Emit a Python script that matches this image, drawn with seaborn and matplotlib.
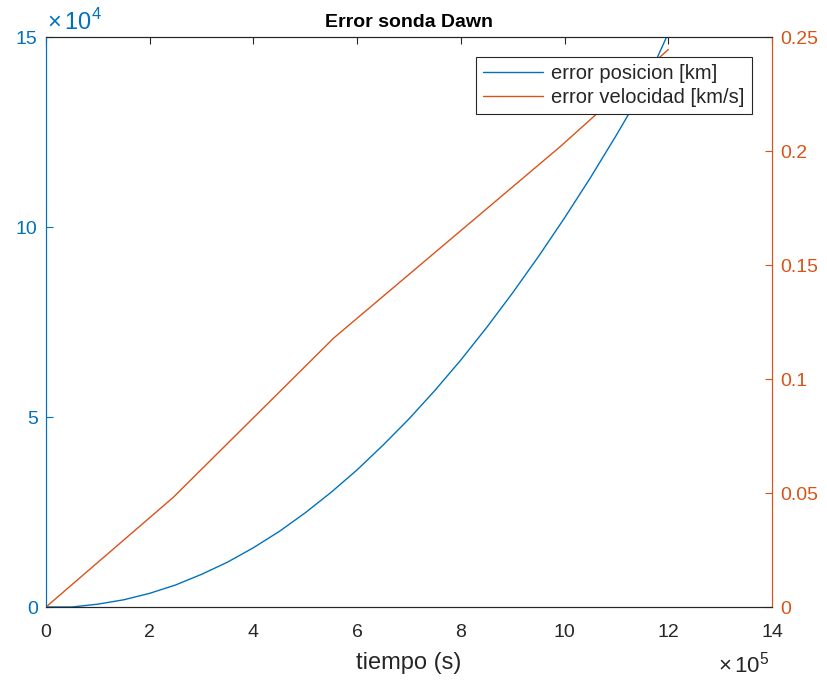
import numpy as np
import pandas as pd
import matplotlib
matplotlib.use('Agg')
import matplotlib.pyplot as plt
from matplotlib.ticker import FuncFormatter, MultipleLocator
import seaborn as sns

# datos
t_pos = [0.0, 0.5, 1.0, 1.5, 2.0, 2.5, 3.0, 3.5, 4.0, 4.5, 5.0, 5.5, 6.0, 6.5,
         7.0, 7.5, 8.0, 8.5, 9.0, 9.5, 10.0, 10.5, 11.0, 11.5, 12.0]  # x1e5 s
err_pos = [0.0, 0.0, 0.075, 0.19, 0.36, 0.58, 0.86, 1.18, 1.56, 1.99, 2.48, 3.02, 3.61, 4.26,
           4.95, 5.70, 6.50, 7.36, 8.27, 9.23, 10.24, 11.30, 12.42, 13.59, 15.1]  # x1e4 km
t_vel = [0.0, 2.45, 5.55, 9.91, 10.64, 12.0]  # x1e5 s
err_vel = [0.0, 0.048, 0.118, 0.2018, 0.2167, 0.2445]  # km/s

BLUE = '#0072BD'
ORANGE = '#D95319'
GRAY = '#262626'

sns.set_theme(style='white')
plt.rcParams['font.family'] = ['Liberation Sans', 'DejaVu Sans']
plt.rcParams['mathtext.fontset'] = 'custom'
plt.rcParams['mathtext.rm'] = 'Liberation Sans'

df_pos = pd.DataFrame({'t': np.array(t_pos) * 1e5, 'e': np.array(err_pos) * 1e4})
df_vel = pd.DataFrame({'t': np.array(t_vel) * 1e5, 'e': np.array(err_vel)})

fig = plt.figure(figsize=(8.27, 6.81), dpi=100)
ax = fig.add_axes([46/827, 1 - 607/681, (772-46)/827, (607-37)/681])
ax2 = ax.twinx()

sns.lineplot(data=df_pos, x='t', y='e', ax=ax, color=BLUE, lw=1.0, label='error posicion [km]', legend=False)
sns.lineplot(data=df_vel, x='t', y='e', ax=ax2, color=ORANGE, lw=1.0, label='error velocidad [km/s]', legend=False)

ax.set_xlim(0, 14e5)
ax.set_ylim(0, 15e4)
ax2.set_ylim(0, 0.25)

ax.xaxis.set_major_locator(MultipleLocator(2e5))
ax.yaxis.set_major_locator(MultipleLocator(5e4))
ax2.yaxis.set_major_locator(MultipleLocator(0.05))
ax.xaxis.set_major_formatter(FuncFormatter(lambda v, p: f'{v/1e5:g}'))
ax.yaxis.set_major_formatter(FuncFormatter(lambda v, p: f'{v/1e4:g}'))
ax2.yaxis.set_major_formatter(FuncFormatter(lambda v, p: f'{v:g}'))

fs = 14
ax.tick_params(axis='x', direction='in', length=5, width=0.8, colors=GRAY, labelsize=fs, top=True, pad=12)
ax.tick_params(axis='y', direction='in', length=5, width=0.8, colors=BLUE, labelsize=fs, pad=6)
ax2.tick_params(axis='y', direction='in', length=5, width=0.8, colors=ORANGE, labelsize=fs, pad=6)
ax2.tick_params(axis='x', top=False, bottom=False)

for a in (ax, ax2):
    for s in a.spines.values():
        s.set_linewidth(0.8)
        s.set_color(GRAY)
    a.spines['left'].set_color(BLUE)
    a.spines['right'].set_color(ORANGE)
    a.set_ylabel('')
ax.set_xlabel('tiempo (s)', fontsize=17, color=GRAY, labelpad=8)
ax.set_title('Error sonda Dawn', fontsize=14, fontweight='bold', color='black', pad=7)

fig.text(47/827, 1 - 30/681, r'$\times\,10^{4}$', color=BLUE, fontsize=17, va='baseline', ha='left')
fig.text(770/827, 1 - 672/681, r'$\times\,10^{5}$', color=GRAY, fontsize=16, va='baseline', ha='right')

h1, l1 = ax.get_legend_handles_labels()
h2, l2 = ax2.get_legend_handles_labels()
leg = ax2.legend(h1 + h2, l1 + l2, loc='upper right', fontsize=14.5, frameon=True, fancybox=False,
                 edgecolor=GRAY, framealpha=1, borderaxespad=1.0, handlelength=3.0,
                 handletextpad=0.4, borderpad=0.35, labelspacing=0.25)
leg.get_frame().set_linewidth(0.8)

fig.savefig('out.png', dpi=100)
